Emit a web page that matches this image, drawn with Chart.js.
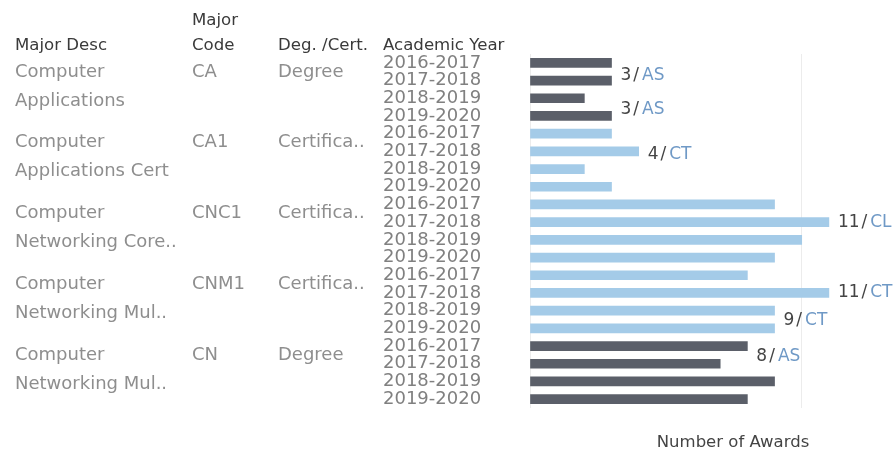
<!DOCTYPE html>
<html>
<head>
<meta charset="utf-8">
<script src="https://cdn.jsdelivr.net/npm/chart.js@4"></script>
<style>
html,body{margin:0;padding:0;background:#fff;}
#wrap{position:relative;width:896px;height:451px;}
</style>
</head>
<body>
<div id="wrap"><canvas id="c" width="896" height="451"></canvas></div>
<script>
// ---- data ----
const years = ['2016-2017','2017-2018','2018-2019','2019-2020'];
const majorDesc = [
  ['Computer','Applications'],
  ['Computer','Applications Cert'],
  ['Computer','Networking Core..'],
  ['Computer','Networking Mul..'],
  ['Computer','Networking Mul..']
];
const majorCode = ['CA','CA1','CNC1','CNM1','CN'];
const degCert = ['Degree','Certifica..','Certifica..','Certifica..','Degree'];
const awardsCA   = [3, 3, 2, 3];
const awardsCA1  = [3, 4, 2, 3];
const awardsCNC1 = [9, 11, 10, 9];
const awardsCNM1 = [8, 11, 9, 9];
const awardsCN   = [8, 7, 9, 8];
const labelRow  = [1, 3, 5, 9, 13, 15, 16];
const labelCode = ['AS','AS','CT','CL','CT','CT','AS'];

// ---- build ----
const groups = [awardsCA, awardsCA1, awardsCNC1, awardsCNM1, awardsCN];
const rowLabels = [], values = [], colors = [];
groups.forEach((g, gi) => {
  g.forEach((v, i) => {
    rowLabels.push(years[i]);
    values.push(v);
    colors.push(degCert[gi] === 'Degree' ? '#5b5f69' : '#a4cbe8');
  });
});
const labelShift = [-0.27, -0.34, 0.2, 0.05, 0, -0.45, 0.57];

const FONT = '"DejaVu Sans", sans-serif';

const overlay = {
  id: 'overlay',
  afterDraw(chart) {
    const ctx = chart.ctx;
    const y = chart.scales.y, x = chart.scales.x;
    ctx.save();
    ctx.textBaseline = 'middle';
    ctx.textAlign = 'left';
    // headers
    ctx.fillStyle = '#3a3a3a';
    ctx.font = '16.6px ' + FONT;
    ctx.fillText('Major', 192, 21);
    ctx.fillText('Major Desc', 15, 46);
    ctx.fillText('Code', 192, 46);
    ctx.fillText('Deg. /Cert.', 278, 46);
    ctx.fillText('Academic Year', 383, 46);
    // row headers
    ctx.fillStyle = '#8e8e8e';
    ctx.font = '18px ' + FONT;
    groups.forEach((g, gi) => {
      const y0 = y.getPixelForValue(gi * 4) + 9;
      ctx.fillText(majorDesc[gi][0], 15, y0);
      ctx.fillText(majorDesc[gi][1], 15, y0 + 29);
      ctx.fillText(majorCode[gi], 192, y0);
      ctx.fillText(degCert[gi], 278, y0);
    });
    // data labels
    ctx.font = '17px ' + FONT;
    labelRow.forEach((r, k) => {
      let px = x.getPixelForValue(values[r]) + 9;
      const py = y.getPixelForValue(r + labelShift[k]);
      const t = String(values[r]);
      ctx.fillStyle = '#444';
      ctx.fillText(t, px, py);
      px += ctx.measureText(t).width + 2;
      ctx.fillText('/', px, py);
      px += ctx.measureText('/').width + 3;
      ctx.fillStyle = '#6f99c6';
      ctx.fillText(labelCode[k], px, py);
    });
    // axis title
    ctx.fillStyle = '#444';
    ctx.font = '16.5px ' + FONT;
    ctx.textAlign = 'center';
    ctx.fillText('Number of Awards', 733, 443);
    ctx.restore();
  }
};

new Chart(document.getElementById('c'), {
  type: 'bar',
  data: {
    labels: rowLabels,
    datasets: [{
      data: values,
      backgroundColor: colors,
      barThickness: 9,
      borderWidth: 0
    }]
  },
  options: {
    indexAxis: 'y',
    responsive: false,
    animation: false,
    layout: { padding: { top: 54, right: 0, left: 383, bottom: 43 } },
    plugins: { legend: { display: false }, tooltip: { enabled: false } },
    scales: {
      x: {
        min: 0, max: 13.47,
        ticks: { display: false, stepSize: 10 },
        grid: { color: '#ececec', drawTicks: false, lineWidth: 1 },
        border: { display: false },
        afterFit(s) { s.height = 0; }
      },
      y: {
        ticks: { autoSkip: false, padding: 0, crossAlign: 'far', color: '#808080', font: { family: FONT, size: 18, lineHeight: 0.4 } },
        grid: { display: false, drawTicks: false },
        border: { display: false },
        afterFit(s) { s.width = 147; }
      }
    }
  },
  plugins: [overlay]
});
</script>
</body>
</html>
